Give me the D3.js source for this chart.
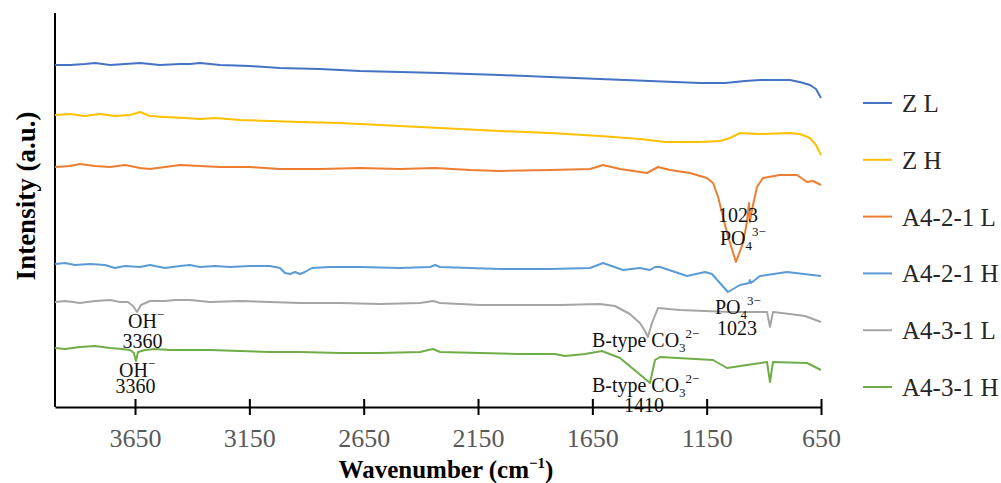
<!DOCTYPE html>
<html>
<head>
<meta charset="utf-8">
<script src="https://cdn.jsdelivr.net/npm/d3@7"></script>
<style>
  html, body { margin: 0; padding: 0; background: #fff; }
  svg { display: block; font-family: "Liberation Serif", "Times New Roman", serif; }
</style>
</head>
<body>
<svg id="chart" width="1001" height="483"></svg>
<script>
// ---- Data (wavenumber cm^-1, intensity a.u. with vertical offsets) ----
const seriesNames = ["Z L", "Z H", "A4-2-1 L", "A4-2-1 H", "A4-3-1 L", "A4-3-1 H"];
const seriesColors = ["#4472C4", "#FFC000", "#ED7D31", "#5B9BD5", "#A5A5A5", "#70AD47"];
const xTicks = [3650, 3150, 2650, 2150, 1650, 1150, 650];

const ZL = [[4000,342],[3934,342],[3869,343],[3825,344],[3759,342],[3694,343],[3628,344],[3541,342],[3453,343],[3410,343],[3366,344],[3278,342],[3147,341],[3016,339],[2841,338],[2666,336],[2491,335],[2316,334],[2054,332],[1835,330],[1617,328],[1398,326],[1179,324],[1070,324],[982,326],[917,327],[786,327],[743,325],[698,322],[672,318],[650,309]];
const ZH = [[4000,292],[3934,293],[3869,291],[3803,293],[3738,291],[3672,292],[3628,295],[3585,291],[3519,290],[3431,289],[3366,288],[3300,289],[3191,287],[3060,286],[2929,285],[2754,284],[2579,282],[2404,280],[2229,278],[2054,276],[1835,274],[1617,271],[1442,268],[1332,265],[1179,265],[1092,266],[1048,269],[1004,274],[917,273],[786,274],[743,273],[698,269],[672,262],[650,252]];
const A421L = [[4000,240],[3934,241],[3891,243],[3825,241],[3759,240],[3694,242],[3628,239],[3585,238],[3519,240],[3453,242],[3366,241],[3278,240],[3147,240],[3016,238],[2841,238],[2666,239],[2491,238],[2338,239],[2185,237],[2054,236],[1835,237],[1660,238],[1603,242],[1529,238],[1411,234],[1363,240],[1310,237],[1223,234],[1149,229],[1122,224],[1100,210],[1061,174],[1022,145],[991,164],[974,185],[965,204],[961,185],[952,197],[930,220],[904,229],[830,232],[755,232],[711,225],[685,226],[650,222]];
const A421H = [[4000,143],[3956,144],[3913,142],[3847,143],[3781,142],[3738,139],[3694,141],[3628,140],[3585,142],[3519,139],[3453,141],[3410,142],[3366,140],[3300,141],[3235,140],[3147,141],[3060,141],[3016,139],[2994,134],[2972,133],[2950,135],[2929,133],[2907,135],[2876,139],[2797,140],[2666,140],[2491,139],[2360,140],[2338,142],[2316,140],[2185,139],[2054,138],[1835,138],[1660,139],[1603,144],[1516,137],[1442,139],[1398,137],[1376,140],[1354,140],[1236,131],[1157,135],[1127,133],[1057,115],[1004,122],[965,124],[961,127],[956,124],[917,131],[799,135],[650,131]];
const A431L = [[4000,105],[3956,106],[3891,104],[3825,106],[3759,107],[3716,105],[3681,105],[3659,101],[3641,95],[3624,102],[3585,106],[3519,106],[3475,107],[3410,107],[3322,105],[3191,106],[3060,105],[2929,104],[2754,104],[2579,103],[2404,104],[2347,106],[2316,104],[2141,102],[1966,102],[1791,102],[1617,103],[1551,101],[1486,93],[1442,84],[1420,76],[1407,70],[1389,84],[1363,99],[1267,97],[1048,95],[886,95],[873,80],[860,95],[786,93],[720,91],[650,85]];
const A431H = [[4000,59],[3956,58],[3891,60],[3825,61],[3759,59],[3707,58],[3672,57],[3655,54],[3646,46],[3637,55],[3606,57],[3563,58],[3497,57],[3410,57],[3322,57],[3191,56],[3060,55],[2929,55],[2754,54],[2579,54],[2404,55],[2347,58],[2316,55],[2141,54],[1966,53],[1813,53],[1770,51],[1682,53],[1608,56],[1529,49],[1429,30],[1398,24],[1376,47],[1354,50],[1122,47],[1061,39],[974,42],[886,45],[873,25],[860,45],[711,44],[650,37]];

// annotation texts, anchored in data coordinates (wavenumber, intensity)
const annotations = [
  {parts:[["1023"]], wn:1013, v:185, anchor:"middle"},
  {parts:[["PO"],["4","sub"],["3\u2212","sup"]], wn:1092, v:162, anchor:"start"},
  {parts:[["PO"],["4","sub"],["3\u2212","sup"]], wn:1114, v:93, anchor:"start"},
  {parts:[["1023"]], wn:1017, v:72, anchor:"middle"},
  {parts:[["OH"],["\u2212","sup"]], wn:3681, v:79, anchor:"start"},
  {parts:[["3360"]], wn:3617, v:59, anchor:"middle"},
  {parts:[["OH"],["\u2212","sup"]], wn:3720, v:30, anchor:"start"},
  {parts:[["3360"]], wn:3648, v:14, anchor:"middle"},
  {parts:[["B-type CO"],["3","sub"],["2\u2212","sup"]], wn:1652, v:60, anchor:"start"},
  {parts:[["B-type CO"],["3","sub"],["2\u2212","sup"]], wn:1652, v:15, anchor:"start"},
  {parts:[["1410"]], wn:1424, v:-5, anchor:"middle"}
];

const allSeries = [ZL, ZH, A421L, A421H, A431L, A431H];

// ---- Layout ----
const svg = d3.select("#chart");
const x = d3.scaleLinear().domain([4000, 650]).range([55, 821]);
const y = d3.scaleLinear().domain([0, 394]).range([407, 13]);

// y axis line
svg.append("line")
  .attr("x1", x(4000)).attr("x2", x(4000))
  .attr("y1", y(394)).attr("y2", y(0))
  .attr("stroke", "#000").attr("stroke-width", 2);

// x axis
const xAxis = d3.axisBottom(x).tickValues(xTicks).tickSizeOuter(0).tickSizeInner(8).tickFormat(d3.format("d"));
const gx = svg.append("g").attr("transform", `translate(0,${y(0)})`).call(xAxis);
gx.select(".domain").attr("stroke", "#000").attr("stroke-width", 2);
gx.selectAll(".tick line").attr("y1", -8).attr("y2", 8).attr("stroke", "#000").attr("stroke-width", 2);
gx.selectAll(".tick text")
  .attr("y", 40).attr("dy", 0)
  .attr("fill", "#595959")
  .style("font-family", '"Liberation Serif", "Times New Roman", serif')
  .style("font-size", "26px");

// lines
const line = d3.line().x(d => x(d[0])).y(d => y(d[1]));
allSeries.forEach((s, i) => {
  svg.append("path").datum(s)
    .attr("d", line)
    .attr("fill", "none")
    .attr("stroke", seriesColors[i])
    .attr("stroke-width", 2)
    .attr("stroke-linejoin", "round");
});

// annotations
annotations.forEach(a => {
  const t = svg.append("text")
    .attr("x", x(a.wn)).attr("y", y(a.v))
    .attr("text-anchor", a.anchor)
    .attr("fill", "#111")
    .style("font-size", "20px");
  let shift = 0;
  a.parts.forEach(p => {
    const ts = t.append("tspan").text(p[0]);
    if (p[1] === "sub") { ts.attr("dy", 5 - shift).style("font-size", "13px"); shift = 5; }
    else if (p[1] === "sup") { ts.attr("dy", -9 - shift).style("font-size", "13px"); shift = -9; }
    else if (shift !== 0) { ts.attr("dy", -shift); shift = 0; }
  });
});

// axis titles
const xt = svg.append("text")
  .attr("x", 446).attr("y", 478)
  .attr("text-anchor", "middle")
  .attr("font-weight", "bold")
  .attr("fill", "#000")
  .style("font-size", "25px");
xt.append("tspan").text("Wavenumber (cm");
xt.append("tspan").text("\u22121").attr("dy", -10).style("font-size", "15px");
xt.append("tspan").text(")").attr("dy", 10);

svg.append("text")
  .attr("transform", "translate(35,196) rotate(-90)")
  .attr("text-anchor", "middle")
  .attr("font-weight", "bold")
  .attr("fill", "#000")
  .style("font-size", "27px")
  .text("Intensity (a.u.)");

// legend
const lg = svg.append("g");
seriesNames.forEach((n, i) => {
  const ly = 103 + i * 56.8;
  lg.append("line").attr("x1", 863).attr("x2", 892).attr("y1", ly).attr("y2", ly)
    .attr("stroke", seriesColors[i]).attr("stroke-width", 2);
  lg.append("text").attr("x", 902).attr("y", ly + 9)
    .attr("fill", "#262626")
    .style("font-size", "25px")
    .text(n);
});
</script>
</body>
</html>
